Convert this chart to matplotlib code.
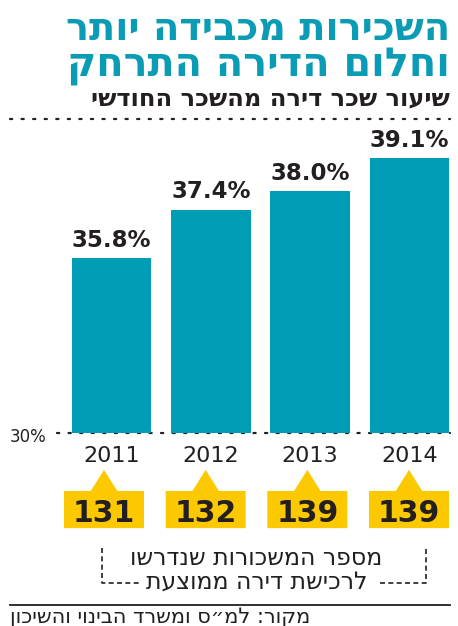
import matplotlib
matplotlib.use("Agg")
import matplotlib.pyplot as plt
from matplotlib.lines import Line2D
from matplotlib.patches import Polygon

# ---------------- data ----------------
years = ["2011", "2012", "2013", "2014"]
rent_share = [35.8, 37.4, 38.0, 39.1]          # % of monthly salary
salaries_needed = [131, 132, 139, 139]          # monthly salaries to buy an average apartment
y_base = 30
y_base_label = "30%"

title1 = "השכירות מכבידה יותר"
title2 = "וחלום הדירה התרחק"
subtitle = "שיעור שכר דירה מהשכר החודשי"
note1 = "מספר המשכורות שנדרשו"
note2 = "לרכישת דירה ממוצעת"
source = "מקור: למ״ס ומשרד הבינוי והשיכון"

TEAL = "#0a9cb5"
BAR = "#019cb6"
YELLOW = "#fcc800"
DARK = "#231f20"

W, H = 458, 626
DPI = 100


def rtl(s):
    # matplotlib lays glyphs out left-to-right; reverse for right-to-left display
    return s[::-1]


def fx(px):
    return px / W


def fy(py):
    return 1 - py / H


plt.rcParams["font.family"] = ["DejaVu Sans"]

fig = plt.figure(figsize=(W / DPI, H / DPI), dpi=DPI)
fig.patch.set_facecolor("white")

# ---------------- titles ----------------
fig.text(fx(450), fy(40), rtl(title1), ha="right", va="baseline", color=TEAL,
         fontsize=27.6, fontweight="bold")
fig.text(fx(450), fy(76), rtl(title2), ha="right", va="baseline", color=TEAL,
         fontsize=28.6, fontweight="bold")
fig.text(fx(450), fy(105), rtl(subtitle), ha="right", va="baseline", color=DARK,
         fontsize=17.4, fontweight="bold")

# top dotted rule
fig.add_artist(Line2D([fx(10), fx(450)], [fy(119), fy(119)], color=DARK,
                      lw=1.6, linestyle=(0, (1, 4.2)), dash_capstyle="round"))

# ---------------- bars ----------------
ax = fig.add_axes([fx(62), fy(433), fx(459) - fx(62), fy(119) - fy(433)])
x = list(range(len(years)))
ax.bar(x, rent_share, width=0.8, bottom=0, color=BAR, zorder=3)
ax.set_xlim(-0.5, 3.5)
ax.set_ylim(y_base, 40.4)
for s in ax.spines.values():
    s.set_visible(False)
ax.set_yticks([])
ax.set_xticks(x)
ax.set_xticklabels(years, fontsize=16, color=DARK)
ax.tick_params(axis="x", length=0, pad=9)
ax.patch.set_alpha(0)

for xi, v in zip(x, rent_share):
    ax.annotate(f"{v:.1f}%", (xi, v), xytext=(0, 8), textcoords="offset points",
                ha="center", va="baseline", fontsize=16.5, fontweight="bold",
                color=DARK)

# baseline dotted line
fig.add_artist(Line2D([fx(57), fx(450)], [fy(433), fy(433)], color=DARK,
                      lw=1.6, linestyle=(0, (1, 4.2)), dash_capstyle="round",
                      zorder=0))
fig.text(fx(46), fy(442), y_base_label, ha="right", va="baseline",
         fontsize=12, color=DARK)

# ---------------- callout boxes ----------------
cax = fig.add_axes([fx(53.2), fy(530), fx(459.8) - fx(53.2), fy(468) - fy(530)])
cax.set_xlim(-0.5, 3.5)
cax.set_ylim(0, 1)
cax.axis("off")
bw = 0.787
tri_h = 0.13
for xi, n in zip(x, salaries_needed):
    l, r = xi - bw / 2, xi + bw / 2
    box_top = 0.63
    poly = [(l, 0.03), (r, 0.03), (r, box_top), (xi + tri_h, box_top),
            (xi, 0.97), (xi - tri_h, box_top), (l, box_top)]
    cax.add_patch(Polygon(poly, closed=True, facecolor=YELLOW, edgecolor="none"))
    cax.text(xi, 0.13, str(n), ha="center", va="baseline", fontsize=21.5,
             fontweight="heavy", color=DARK)

# ---------------- bracket note ----------------
dash = dict(color=DARK, lw=1.2, linestyle=(0, (3, 2)))
fig.add_artist(Line2D([fx(102), fx(102), fx(140)], [fy(548), fy(583), fy(583)], **dash))
fig.add_artist(Line2D([fx(380), fx(426), fx(426)], [fy(583), fy(583), fy(548)], **dash))
fig.text(fx(256), fy(565), rtl(note1), ha="center", va="baseline",
         fontsize=17, color=DARK)
fig.text(fx(257), fy(589), rtl(note2), ha="center", va="baseline",
         fontsize=17, color=DARK)

# ---------------- source ----------------
fig.add_artist(Line2D([fx(10), fx(450)], [fy(605), fy(605)], color=DARK, lw=1.3))
fig.text(fx(10), fy(623), rtl(source), ha="left", va="baseline",
         fontsize=15, color=DARK)

fig.savefig("out.png", dpi=DPI)
